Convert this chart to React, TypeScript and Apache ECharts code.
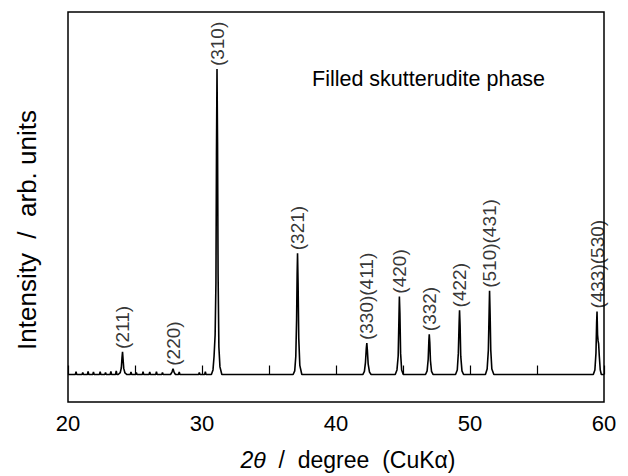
import React, { useEffect, useRef } from "react";
import * as echarts from "echarts";

// XRD scan: 2θ (degree) and intensity (counts above background)
const scanAngles: number[] = [
  20.0,
  20.55, 20.6, 20.65, 21.05, 21.1, 21.15, 21.45, 21.5, 21.55, 21.85, 21.9, 21.95,
  22.35, 22.4, 22.45, 22.75, 22.8, 22.85, 23.15, 23.2, 23.25, 23.55, 23.6, 23.65,
  23.75, 23.9, 23.98, 24.03, 24.07, 24.11, 24.16, 24.25, 24.4,
  24.65, 24.7, 24.75, 25.05, 25.1, 25.15, 25.55, 25.6, 25.65, 26.05, 26.1, 26.15,
  26.55, 26.6, 26.65, 27.0, 27.05, 27.1,
  27.65, 27.76, 27.84, 27.92, 28.02,
  28.25, 28.3, 28.35, 29.75, 29.8, 29.85, 30.2, 30.25, 30.3,
  30.7, 30.82, 30.9, 30.98, 31.04, 31.08, 31.12, 31.16, 31.2, 31.26, 31.34, 31.48,
  36.8, 36.92, 37.0, 37.06, 37.1, 37.13, 37.17, 37.22, 37.3, 37.45,
  42.0, 42.12, 42.2, 42.26, 42.3, 42.34, 42.4, 42.5, 42.62,
  44.42, 44.55, 44.64, 44.7, 44.73, 44.77, 44.82, 44.9, 45.02,
  46.68, 46.8, 46.88, 46.93, 46.96, 47.0, 47.05, 47.13, 47.25,
  48.92, 49.05, 49.13, 49.19, 49.22, 49.26, 49.31, 49.4, 49.52,
  51.15, 51.28, 51.37, 51.43, 51.46, 51.5, 51.55, 51.63, 51.78,
  59.2, 59.32, 59.4, 59.45, 59.48, 59.52, 59.56, 59.6, 59.65, 59.72, 59.8,
  60.0,
];

const scanCounts: number[] = [
  0,
  0, 9, 0, 0, 7, 0, 0, 10, 0, 0, 8, 0,
  0, 9, 0, 0, 7, 0, 0, 10, 0, 0, 12, 0,
  0, 6, 22, 55, 74, 50, 20, 5, 0,
  0, 8, 0, 0, 7, 0, 0, 9, 0, 0, 8, 0,
  0, 9, 0, 0, 7, 0,
  0, 8, 19, 7, 0,
  0, 8, 0, 0, 7, 0, 0, 9, 0,
  0, 15, 60, 130, 300, 720, 1000, 760, 330, 90, 25, 0,
  0, 12, 60, 180, 330, 397, 300, 120, 30, 0,
  0, 10, 40, 85, 103, 80, 35, 8, 0,
  0, 15, 60, 190, 255, 200, 70, 15, 0,
  0, 12, 50, 110, 132, 105, 45, 10, 0,
  0, 15, 70, 170, 210, 160, 60, 12, 0,
  0, 18, 80, 210, 274, 200, 80, 18, 0,
  0, 15, 70, 170, 206, 130, 110, 100, 60, 15, 0,
  0,
];

// Miller indices of the indexed reflections, with peak position and height
const reflectionLabels: string[] = [
  "(211)", "(220)", "(310)", "(321)", "(330)(411)", "(420)",
  "(332)", "(422)", "(510)(431)", "(433)(530)",
];
const reflectionAngles: number[] = [
  24.07, 27.84, 31.12, 37.13, 42.3, 44.73, 46.96, 49.22, 51.46, 59.48,
];
const reflectionCounts: number[] = [
  74, 19, 1000, 397, 103, 255, 132, 210, 274, 206,
];

const xTicks: number[] = [20, 30, 40, 50, 60];

const FONT = "'Liberation Sans', Arial, Helvetica, sans-serif";

export default function App() {
  const ref = useRef<HTMLDivElement>(null);

  useEffect(() => {
    if (!ref.current) return;
    document.body.style.margin = "0";
    const chart = echarts.init(ref.current, null, { renderer: "svg" });

    const profile = scanAngles.map((a, i) => [a, scanCounts[i]]);
    const peaks = reflectionAngles.map((a, i) => ({
      value: [a, reflectionCounts[i]],
      name: reflectionLabels[i],
    }));

    chart.setOption({
      animation: false,
      backgroundColor: "#ffffff",
      grid: {
        left: 68,
        right: 24,
        top: 12,
        bottom: 68,
        show: true,
        borderColor: "#000",
        borderWidth: 1.5,
        backgroundColor: "transparent",
      },
      xAxis: {
        type: "value",
        min: 20,
        max: 60,
        interval: 5,
        axisLine: { show: false },
        axisTick: {
          show: true,
          inside: true,
          length: 9,
          lineStyle: { color: "#000", width: 1.2 },
        },
        splitLine: { show: false },
        axisLabel: {
          color: "#000",
          fontFamily: FONT,
          fontSize: 22,
          margin: 10,
          formatter: (v: number) => (xTicks.includes(v) ? String(v) : ""),
        },
        name: "{i|2θ}  /  degree  (CuKα)",
        nameLocation: "middle",
        nameGap: 46,
        nameTextStyle: {
          color: "#000",
          fontFamily: FONT,
          fontSize: 23,
          padding: [0, 0, 0, 24],
          rich: {
            i: { fontStyle: "italic", fontFamily: FONT, fontSize: 23, color: "#000" },
          },
        },
      },
      yAxis: {
        type: "value",
        min: -90,
        max: 1187,
        axisLine: { show: false },
        axisTick: { show: false },
        axisLabel: { show: false },
        splitLine: { show: false },
        name: "Intensity  /  arb. units",
        nameLocation: "middle",
        nameGap: 28,
        nameTextStyle: {
          color: "#000",
          fontFamily: FONT,
          fontSize: 26,
          padding: [0, 46, 0, 0],
        },
      },
      graphic: [
        {
          type: "text",
          left: 312,
          top: 68,
          style: {
            text: "Filled skutterudite phase",
            fill: "#000",
            font: `21.5px ${FONT}`,
          },
        },
      ],
      series: [
        {
          type: "line",
          data: profile,
          showSymbol: false,
          symbol: "none",
          lineStyle: { color: "#000", width: 1.6 },
          z: 3,
        },
        {
          type: "scatter",
          data: peaks,
          symbolSize: 0,
          silent: true,
          label: {
            show: true,
            position: "top",
            distance: 3,
            rotate: 90,
            align: "left",
            verticalAlign: "middle",
            formatter: (p: any) => p.name,
            color: "#000",
            fontFamily: FONT,
            fontSize: 19,
          },
          z: 4,
        },
      ],
    });

    return () => chart.dispose();
  }, []);

  return <div ref={ref} style={{ width: 628, height: 476 }} />;
}
